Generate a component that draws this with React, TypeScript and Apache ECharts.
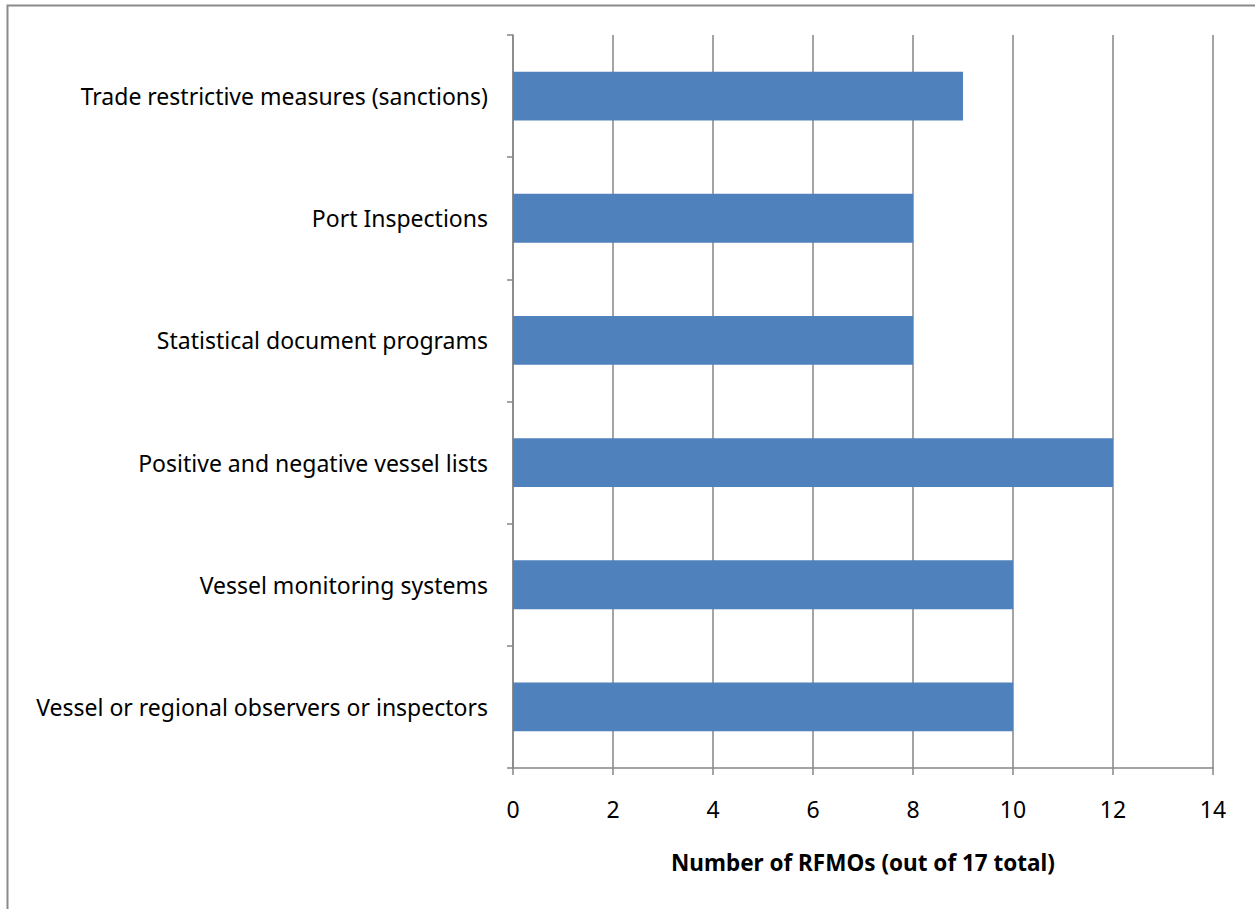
import React, { useEffect, useRef } from "react";
import * as echarts from "echarts";

const categories = [
  "Vessel or regional observers or inspectors",
  "Vessel monitoring systems",
  "Positive and negative vessel lists",
  "Statistical document programs",
  "Port Inspections",
  "Trade restrictive measures (sanctions)",
];
const values = [10, 10, 12, 8, 8, 9];
const xAxisName = "Number of RFMOs (out of 17 total)";

const FONT = "'Noto Sans', 'Open Sans', sans-serif";

export default function App() {
  const ref = useRef<HTMLDivElement>(null);
  useEffect(() => {
    if (!ref.current) return;
    const chart = echarts.init(ref.current, undefined, { renderer: "svg" });
    chart.setOption({
      animation: false,
      backgroundColor: "#ffffff",
      grid: { left: 513, top: 35, width: 700, height: 733, containLabel: false },
      xAxis: {
        type: "value",
        min: 0,
        max: 14,
        interval: 2,
        name: xAxisName,
        nameLocation: "middle",
        nameGap: 83,
        nameTextStyle: { fontFamily: FONT, fontSize: 22.5, fontWeight: "bold", color: "#000" },
        axisLine: { show: true, lineStyle: { color: "#868686", width: 1.5 } },
        axisTick: { show: true, length: 7, lineStyle: { color: "#868686", width: 1.5 } },
        axisLabel: { fontFamily: FONT, fontSize: 23, color: "#000", margin: 29 },
        splitLine: { show: true, lineStyle: { color: "#868686", width: 1.5 } },
      },
      yAxis: {
        type: "category",
        data: categories,
        axisLine: { show: true, lineStyle: { color: "#868686", width: 1.5 } },
        axisTick: { show: true, length: 6, lineStyle: { color: "#868686", width: 1.5 } },
        axisLabel: { fontFamily: FONT, fontSize: 23, color: "#000", margin: 25, padding: [0, 0, 3, 0] },
        splitLine: { show: false },
      },
      series: [
        {
          type: "bar",
          data: values,
          barCategoryGap: "60%",
          itemStyle: { color: "#4F81BD" },
        },
      ],
      graphic: [
        {
          type: "rect",
          shape: { x: 7.5, y: 5.5, width: 1400, height: 1100 },
          style: { fill: "none", stroke: "#8a8a8a", lineWidth: 2 },
          silent: true,
        },
      ],
    });
    return () => chart.dispose();
  }, []);
  return (
    <div
      ref={ref}
      style={{ position: "fixed", left: 0, top: 0, width: 1255, height: 909 }}
    />
  );
}
